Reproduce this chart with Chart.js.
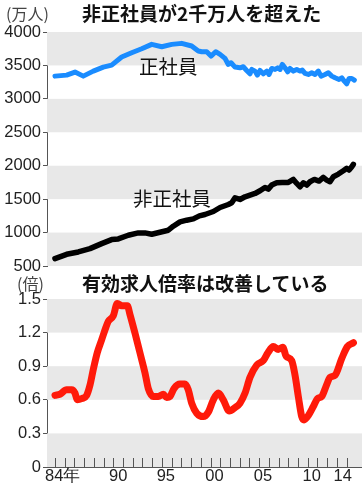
<!DOCTYPE html>
<html>
<head>
<meta charset="utf-8">
<script src="https://cdn.jsdelivr.net/npm/chart.js@4/dist/chart.umd.min.js"></script>
<style>
  body { margin: 0; background: #fff; }
  #wrap { position: relative; width: 362px; height: 487px; overflow: hidden; }
  canvas { position: absolute; left: 0; top: 0; }
  .txt { position: absolute; white-space: nowrap; font-family: "Noto Sans CJK JP", sans-serif; color: #111; }
  .unit { font-size: 16px; line-height: 16px; color: #444; }
  .ttl { font-size: 19px; line-height: 19px; font-weight: 700; }
  .lbl { font-size: 19.5px; line-height: 20px; }
</style>
</head>
<body>
<div id="wrap">
  <canvas id="topChart" width="362" height="487"></canvas>
  <canvas id="bottomChart" width="362" height="487"></canvas>
  <div class="txt unit" style="left:6px; top:5px;">(万人)</div>
  <div class="txt ttl" style="left:82px; top:3px;">非正社員が2千万人を超えた</div>
  <div class="txt lbl" style="left:139px; top:56px;">正社員</div>
  <div class="txt lbl" style="left:133px; top:188px;">非正社員</div>
  <div class="txt unit" style="left:17px; top:275px;">(倍)</div>
  <div class="txt ttl" style="left:82px; top:273px;">有効求人倍率は改善している</div>
</div>
<script>
// 正社員 (万人)
var seiYears = [1984.0, 1985.2, 1986.06, 1986.91, 1987.94, 1988.97, 1989.83, 1990.86, 1991.89, 1992.92,
  1993.95, 1994.98, 1996.01, 1997.03, 1998.06, 1998.74, 1999.09, 1999.61, 2000.05, 2000.53,
  2000.98, 2001.49, 2001.83, 2002.11, 2002.52, 2003.03, 2003.37, 2003.72, 2004.06, 2004.24,
  2004.58, 2004.81, 2005.09, 2005.43, 2005.78, 2006.02, 2006.29, 2006.63, 2006.91, 2007.15,
  2007.38, 2007.66, 2007.94, 2008.18, 2008.52, 2008.87, 2009.21, 2009.44, 2009.72, 2010.06,
  2010.41, 2010.75, 2011.09, 2011.37, 2011.78, 2012.12, 2012.47, 2012.81, 2013.22, 2013.5,
  2013.76, 2014.01, 2014.25, 2014.53, 2014.79];
var seiValues = [3340, 3355, 3400, 3340, 3415, 3475, 3505, 3625, 3690, 3750,
  3815, 3780, 3815, 3830, 3790, 3715, 3705, 3705, 3640, 3705,
  3665, 3605, 3515, 3540, 3475, 3465, 3480, 3425, 3375, 3440,
  3415, 3355, 3425, 3375, 3415, 3365, 3455, 3440, 3465, 3440,
  3515, 3465, 3405, 3455, 3415, 3440, 3415, 3430, 3380, 3365,
  3390, 3365, 3415, 3340, 3365, 3390, 3340, 3315, 3290, 3315,
  3265, 3225, 3305, 3305, 3280];

// 非正社員 (万人)
var hiseiYears = [1984.0, 1985.2, 1986.4, 1987.6, 1988.8, 1989.83, 1990.51, 1991.54, 1992.57, 1993.26,
  1993.95, 1994.8, 1995.66, 1996.17, 1996.86, 1997.55, 1998.23, 1998.85, 1999.43, 2000.29,
  2000.98, 2001.83, 2002.18, 2002.52, 2003.03, 2003.55, 2004.06, 2004.58, 2005.09, 2005.6,
  2005.94, 2006.29, 2006.81, 2007.38, 2008.0, 2008.52, 2008.87, 2009.21, 2009.55, 2009.9,
  2010.23, 2010.68, 2011.16, 2011.6, 2011.95, 2012.29, 2012.63, 2013.15, 2013.66, 2014.01,
  2014.25, 2014.53, 2014.69];
var hiseiValues = [610, 675, 710, 760, 835, 895, 905, 960, 995, 995,
  975, 1005, 1035, 1095, 1160, 1185, 1205, 1250, 1270, 1315,
  1375, 1420, 1445, 1520, 1495, 1535, 1560, 1585, 1625, 1675,
  1650, 1710, 1745, 1750, 1750, 1795, 1735, 1685, 1745, 1710,
  1760, 1795, 1770, 1825, 1785, 1760, 1835, 1875, 1925, 1960,
  1935, 1985, 2020];

// 有効求人倍率 (倍)
var rateYears = [1984.0, 1984.51, 1985.2, 1985.72, 1986.06, 1986.29, 1986.75, 1987.26, 1987.6, 1987.94,
  1988.35, 1988.8, 1989.25, 1989.48, 1990.0, 1990.41, 1990.86, 1991.44, 1991.72, 1992.23,
  1992.74, 1993.26, 1993.6, 1994.11, 1994.63, 1995.14, 1995.49, 1995.83, 1996.24, 1996.86,
  1997.37, 1997.71, 1998.06, 1998.58, 1999.26, 1999.77, 2000.29, 2000.8, 2001.31, 2001.93,
  2002.52, 2003.03, 2003.55, 2004.06, 2004.75, 2005.43, 2005.9, 2006.46, 2006.97, 2007.43,
  2007.77, 2008.35, 2008.69, 2009.03, 2009.38, 2009.62, 2010.06, 2010.57, 2010.99, 2011.44,
  2011.88, 2012.29, 2012.81, 2013.5, 2014.07, 2014.7];
var rateValues = [0.64, 0.65, 0.69, 0.69, 0.66, 0.60, 0.61, 0.64, 0.73, 0.87,
  1.02, 1.135, 1.25, 1.30, 1.35, 1.46, 1.44, 1.44, 1.36, 1.195,
  1.02, 0.84, 0.70, 0.63, 0.63, 0.65, 0.62, 0.63, 0.70, 0.74,
  0.74, 0.69, 0.57, 0.48, 0.45, 0.49, 0.60, 0.66, 0.60, 0.50,
  0.53, 0.57, 0.66, 0.80, 0.91, 0.95, 1.02, 1.075, 1.05, 1.07,
  0.99, 0.95, 0.82, 0.63, 0.45, 0.42, 0.46, 0.54, 0.61, 0.63,
  0.72, 0.80, 0.82, 0.97, 1.075, 1.11];

var popTicks = [500, 1000, 1500, 2000, 2500, 3000, 3500, 4000];
var rateTicks = [0, 0.3, 0.6, 0.9, 1.2, 1.5];
var rateTickLabels = ['0', '0.3', '0.6', '0.9', '1.2', '1.5'];
var yearLabels = ['84年', '90', '95', '00', '05', '10', '14'];
var yearLabelPos = [1984.8, 1990.5, 1995.4, 2000.4, 2005.4, 2010.4, 2013.6];
var tickYears = [1984, 1985, 1986, 1987, 1988, 1989, 1990, 1991, 1992, 1993, 1994, 1995, 1996,
  1997, 1998, 1999, 2000, 2001, 2002, 2003, 2004, 2005, 2006, 2007, 2008, 2009, 2010,
  2011, 2012, 2013, 2014];

var X_MIN = 1983.18, X_MAX = 2015.58;
var AXIS_COLOR = '#555';
var TICK_FONT = { family: '"Liberation Sans", Arial, sans-serif', size: 16.5 };

function pts(xs, ys) {
  return xs.map(function (x, i) { return { x: x, y: ys[i] }; });
}

// alternating gray bands, starting gray at the top
var bands = {
  id: 'bands',
  beforeDatasetsDraw: function (chart) {
    var ctx = chart.ctx, a = chart.chartArea, y = chart.scales.y;
    var t = y.ticks.map(function (k) { return k.value; }).sort(function (p, q) { return q - p; });
    ctx.save();
    ctx.fillStyle = '#e8e8e8';
    for (var i = 0; i < t.length - 1; i += 2) {
      var y1 = y.getPixelForValue(t[i]), y2 = y.getPixelForValue(t[i + 1]);
      ctx.fillRect(a.left, y1, a.right - a.left, y2 - y1);
    }
    ctx.restore();
  }
};

// small year ticks pointing up from the bottom axis
var yearTicks = {
  id: 'yearTicks',
  afterDatasetsDraw: function (chart) {
    var ctx = chart.ctx, a = chart.chartArea, x = chart.scales.x;
    ctx.save();
    ctx.strokeStyle = AXIS_COLOR;
    ctx.lineWidth = 1;
    ctx.beginPath();
    tickYears.forEach(function (yr) {
      var px = Math.round(x.getPixelForValue(yr)) + 0.5;
      ctx.moveTo(px, a.bottom);
      ctx.lineTo(px, a.bottom - 9);
    });
    ctx.stroke();
    ctx.restore();
  }
};

function yAxis(ticks, labels) {
  return {
    type: 'linear',
    min: ticks[0],
    max: ticks[ticks.length - 1],
    afterBuildTicks: function (s) { s.ticks = ticks.map(function (v) { return { value: v }; }); },
    afterFit: function (s) { s.width = 47; },
    grid: { drawOnChartArea: false, drawTicks: true, tickLength: 4, color: AXIS_COLOR },
    border: { display: true, color: AXIS_COLOR, width: 1 },
    ticks: {
      padding: 2,
      color: '#222',
      font: TICK_FONT,
      callback: function (v, i) { return labels ? labels[i] : String(v); }
    }
  };
}

var lineStyle = { pointRadius: 0, fill: false, borderJoinStyle: 'round', borderCapStyle: 'round', tension: 0 };

new Chart(document.getElementById('topChart'), {
  type: 'line',
  data: {
    datasets: [
      Object.assign({ label: '正社員', data: pts(seiYears, seiValues), borderColor: '#1a8cff', borderWidth: 5 }, lineStyle),
      Object.assign({ label: '非正社員', data: pts(hiseiYears, hiseiValues), borderColor: '#000', borderWidth: 5.5 }, lineStyle)
    ]
  },
  options: {
    responsive: false,
    animation: false,
    devicePixelRatio: 1,
    layout: { padding: { top: 32, bottom: 221, left: 0, right: 0 } },
    plugins: { legend: { display: false }, tooltip: { enabled: false } },
    scales: {
      x: { type: 'linear', min: X_MIN, max: X_MAX, display: false },
      y: yAxis(popTicks)
    }
  },
  plugins: [bands]
});

new Chart(document.getElementById('bottomChart'), {
  type: 'line',
  data: {
    datasets: [
      Object.assign({ label: '有効求人倍率', data: pts(rateYears, rateValues), borderColor: '#ff1a0a', borderWidth: 7 }, lineStyle,
        { cubicInterpolationMode: 'monotone' })
    ]
  },
  options: {
    responsive: false,
    animation: false,
    devicePixelRatio: 1,
    layout: { padding: { top: 299, bottom: 0, left: 0, right: 0 } },
    plugins: { legend: { display: false }, tooltip: { enabled: false } },
    scales: {
      x: {
        type: 'linear',
        min: X_MIN,
        max: X_MAX,
        afterBuildTicks: function (s) { s.ticks = yearLabelPos.map(function (v) { return { value: v }; }); },
        afterFit: function (s) { s.height = 20; },
        grid: { display: false, drawTicks: false, tickLength: 0 },
        border: { display: true, color: AXIS_COLOR, width: 1 },
        ticks: {
          padding: 0,
          autoSkip: false,
          maxRotation: 0,
          color: '#222',
          font: TICK_FONT,
          callback: function (v, i) { return yearLabels[i]; }
        }
      },
      y: yAxis(rateTicks, rateTickLabels)
    }
  },
  plugins: [bands, yearTicks]
});
</script>
</body>
</html>
